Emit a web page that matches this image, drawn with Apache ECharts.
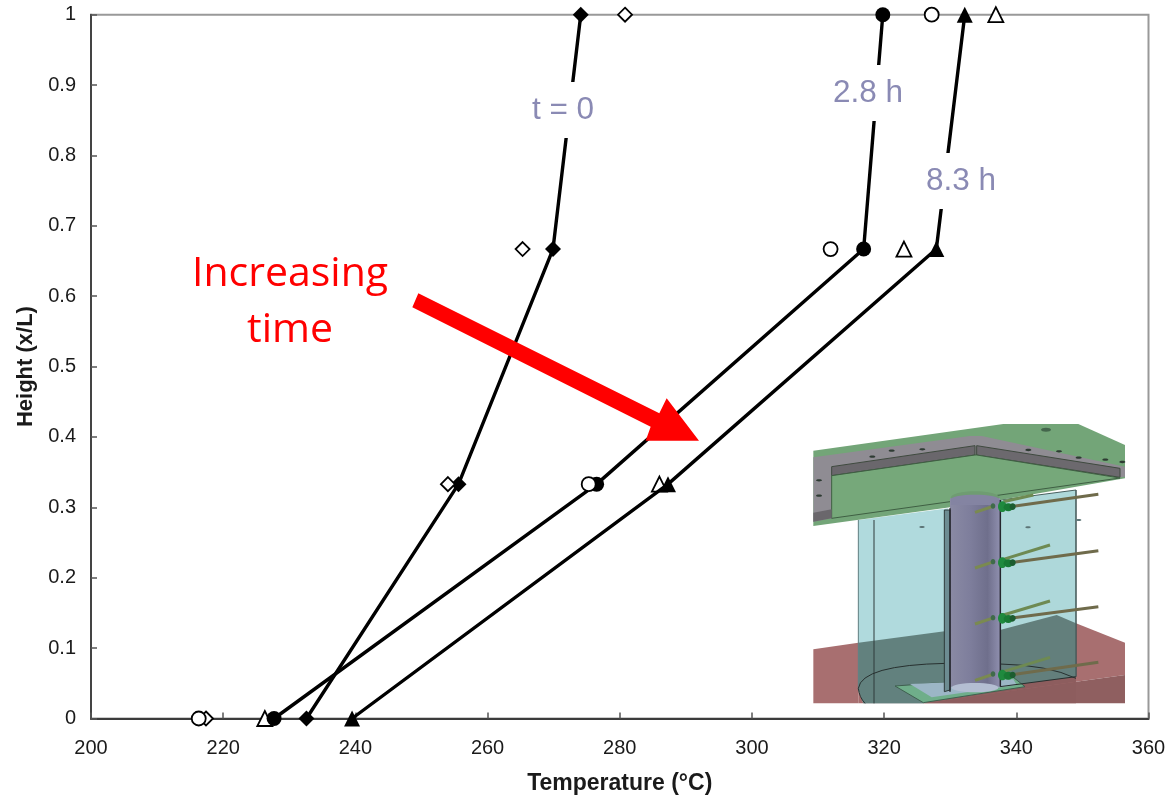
<!DOCTYPE html>
<html><head><meta charset="utf-8">
<style>html,body{margin:0;padding:0;background:#fff}#c{width:1176px;height:795px}</style>
<script src="https://cdn.jsdelivr.net/npm/echarts@6/dist/echarts.min.js"></script>
</head><body><div id="c"></div>
<script>
const heights = [0, 0.333, 0.667, 1];
const t0Measured = [232.6, 255.6, 269.9, 274.1];
const t0Simulated = [217.4, 254.0, 265.3, 280.8];
const h28Measured = [227.7, 276.5, 316.9, 319.8];
const h28Simulated = [216.3, 275.3, 311.9, 327.2];
const h83Measured = [239.5, 287.3, 327.9, 332.2];
const h83Simulated = [226.3, 286.0, 323.0, 336.9];

const pairs = xs => xs.map((x, i) => [x, heights[i]]);
const font = '"Liberation Sans", Arial, sans-serif';
const chart = echarts.init(document.getElementById('c'), null, {renderer: 'canvas'});

function hollow(name, xs, symbol, size, z) {
  return {name, type: 'scatter', data: pairs(xs), symbol, symbolSize: size, z,
    itemStyle: {color: '#fff', borderColor: '#000', borderWidth: 1.8, opacity: 1}, silent: true};
}
function filled(name, xs, symbol, size, z) {
  return {name, type: 'line', data: pairs(xs), symbol, symbolSize: size, showSymbol: true, z,
    lineStyle: {color: '#000', width: 3.4}, itemStyle: {color: '#000', opacity: 1}, silent: true, animation: false};
}

// inset drawing helpers (coordinates local to the inset picture)
const P = (x, y) => [800 + x / 3, 410 + y / 3];
const poly = (pts, fill, stroke, lw, z) => ({type: 'polygon', z: z || 20, silent: true,
  shape: {points: pts.map(p => P(p[0], p[1]))},
  style: {fill: fill, stroke: stroke || null, lineWidth: lw || 0}});
const seg = (a, b, color, lw, z) => ({type: 'line', z: z || 24, silent: true,
  shape: {x1: P(a[0], a[1])[0], y1: P(a[0], a[1])[1], x2: P(b[0], b[1])[0], y2: P(b[0], b[1])[1]},
  style: {stroke: color, lineWidth: lw}});
const curve = (a, c, b, color, lw) => ({type: 'bezierCurve', z: 21, silent: true,
  shape: {x1: P(a[0],a[1])[0], y1: P(a[0],a[1])[1], cpx1: P(c[0],c[1])[0], cpy1: P(c[0],c[1])[1],
          x2: P(b[0],b[1])[0], y2: P(b[0],b[1])[1]},
  style: {stroke: color, lineWidth: lw, fill: null}});
const oval = (x, y, rx, ry, fill, z) => ({type: 'ellipse', z: z || 24, silent: true,
  shape: {cx: P(x, y)[0], cy: P(x, y)[1], rx: rx / 3, ry: ry / 3},
  style: {fill: fill}});

const inset = [];
// floor
inset.push(poly([[40,718],[175,698],[175,880],[40,880]], '#a86f70'));
inset.push(poly([[828,640],[975,698],[975,795],[828,815]], '#a86f70'));
inset.push(poly([[175,698],[770,615],[828,640],[828,880],[175,880]], '#a56c6d'));
inset.push(poly([[828,815],[975,795],[975,880],[828,880]], '#8f5f60'));
inset.push(poly([[370,880],[828,815],[828,880]], '#8d5d5e'));
// glass panels
inset.push(poly([[175,330],[445,295],[445,850],[370,880],[190,880],[175,840]], '#b0dadd'));
inset.push(poly([[175,698],[445,662],[445,850],[370,880],[190,880],[175,840]], '#62817e'));
inset.push(poly([[600,270],[828,240],[828,800],[600,830]], '#aed8da', '#49605f', 1));
inset.push(poly([[600,660],[770,615],[828,640],[828,800],[600,830]], '#637f7c'));
inset.push(poly([[370,880],[600,830],[828,800],[828,815]], '#8d5d5e'));
inset.push(seg([222,330],[222,880],'#2e3a3a',1,21));
inset.push(seg([175,330],[175,840],'#5e7e80',1,21));
inset.push(seg([600,830],[828,800],'#27302f',1,21));
inset.push(seg([828,240],[828,800],'#3f5051',1,21));
// floor arc
inset.push(curve([175,835],[185,765],[440,760],'#27302f',1));
inset.push(curve([175,835],[178,862],[195,880],'#27302f',1));
inset.push(curve([600,762],[745,765],[828,805],'#27302f',1));
// base plate
inset.push(poly([[285,828],[640,802],[675,830],[370,878]], '#6fae8a', '#3f5f4f', 1));
inset.push(poly([[330,822],[640,808],[650,825],[395,862]], '#9cb6c6'));
// column
inset.push({type: 'rect', z: 22, silent: true,
  shape: {x: P(450,0)[0], y: P(0,265)[1], width: 150/3, height: 565/3},
  style: {fill: new echarts.graphic.LinearGradient(0,0,1,0,[
    {offset:0,color:'#8a8aa4'},{offset:0.4,color:'#7e7e9c'},{offset:0.75,color:'#6f6f8c'},{offset:1,color:'#8f8fae'}])}});
inset.push(poly([[433,300],[450,300],[450,840],[433,845]], '#6d8c92', '#2e3a3a', 1, 22));
inset.push(seg([450,295],[450,845],'#26262e',1.5));
inset.push(seg([601,270],[601,830],'#26262e',1.5));
inset.push(oval(525,833,70,14,'#b4bed2',23));
// top plate
inset.push(poly([[40,122],[610,42],[835,42],[975,105],[975,205],[600,270],[450,292],[40,348]], '#73a578'));
inset.push(poly([[40,142],[510,78],[545,78],[975,170],[975,200],[960,202],[530,135],[525,135],[95,197],[95,325],[40,335]], '#8f8c93'));
inset.push(poly([[95,170],[525,107],[525,135],[95,197]], '#6a676c', '#3f4a3f', 1));
inset.push(poly([[530,107],[960,175],[960,202],[530,135]], '#6c696e', '#3f4a3f', 1));
inset.push(poly([[95,197],[525,135],[530,135],[960,204],[600,255],[450,275],[95,325]], '#76a87a', '#3f5f43', 1));
inset.push(poly([[40,308],[95,298],[95,325],[40,335]], '#6a676c'));
inset.push(oval(525,262,72,18,'#6f9c72',23));
inset.push(poly([[453,268],[598,268],[598,285],[453,285]], '#8484a2', null, 0, 23));
inset.push(oval(525,268,72,14,'#8484a2',23));
[[217,140],[275,122],[367,118],[685,120],[777,124],[836,143],[916,149],[967,156],[57,211],[57,257]].forEach(h => inset.push(oval(h[0],h[1],9,3.5,'#2e3b33',25)));
inset.push(oval(738,59,15,6,'#44664c',25));
[[366,351],[684,352],[836,330]].forEach(h => inset.push(oval(h[0],h[1],8,3,'#5d7577',25)));
// thermocouples
const rods = [[290,253,275,700,255,288],[458,422,448,750,405,455],[625,590,615,750,573,623],[795,757,785,750,742,792]];
rods.forEach(r => {
  inset.push(seg([630,r[0]],[895,r[1]],'#6f6b4b',3));
  inset.push(seg([610,r[2]],[r[3],r[4]],'#6e8a52',3));
  inset.push(seg([525,r[5]+19],[582,r[5]],'#7a8a50',3));
  inset.push(oval(579,r[5],7,8,'#3f6b4a',26));
  inset.push(oval(607,r[0],13,16,'#1f8a3e',26));
  inset.push(oval(625,r[0]+2,14,12,'#187a34',26));
  inset.push(oval(638,r[0],9,10,'#1c5c30',26));
});

const labelStyle = (text, x, y) => ({type: 'text', z: 30, silent: true, x, y,
  style: {text, font: '31.5px ' + font, fill: '#8a8ab4', align: 'center', verticalAlign: 'middle',
    backgroundColor: '#fff', padding: [12, 2, 12, 2]}});
const redText = (text, x, y) => ({type: 'text', z: 31, silent: true, x, y,
  style: {text, font: '41px "Open Sans", sans-serif', fill: '#ff0000', align: 'center', verticalAlign: 'middle'}});
const A = (x, y) => [400 + x / 3, 280 + y / 3];

const option = {
  animation: false,
  backgroundColor: '#fff',
  grid: {left: 91, top: 14.7, right: 27.5, bottom: 76.5, show: true, borderColor: '#999', borderWidth: 2, backgroundColor: 'transparent', outerBoundsMode: 'none'},
  xAxis: {type: 'value', min: 200, max: 360, interval: 20, splitLine: {show: false},
    axisLine: {onZero: false, lineStyle: {color: '#3c3c3c', width: 2}},
    axisTick: {inside: true, length: 6, lineStyle: {color: '#555', width: 1.5}},
    axisLabel: {color: '#1a1a1a', fontFamily: font, fontSize: 20, margin: 20},
    name: 'Temperature (°C)', nameLocation: 'middle', nameGap: 54,
    nameTextStyle: {fontFamily: font, fontWeight: 'bold', fontSize: 23, color: '#1a1a1a'}},
  yAxis: {type: 'value', min: 0, max: 1, interval: 0.1, splitLine: {show: false},
    axisLine: {onZero: false, lineStyle: {color: '#444', width: 2}},
    axisTick: {inside: true, length: 6, lineStyle: {color: '#555', width: 1.5}},
    axisLabel: {color: '#1a1a1a', fontFamily: font, fontSize: 20, margin: 15,
      formatter: v => String(+v.toFixed(1))},
    name: 'Height (x/L)', nameLocation: 'middle', nameGap: 52, nameRotate: 90,
    nameTextStyle: {fontFamily: font, fontWeight: 'bold', fontSize: 22, color: '#1a1a1a'}},
  series: [
    filled('t = 0', t0Measured, 'diamond', 16, 3),
    hollow('t = 0 model', t0Simulated, 'diamond', 14, 4),
    filled('2.8 h', h28Measured, 'circle', 15, 3),
    hollow('2.8 h model', h28Simulated, 'circle', 14, 5),
    hollow('8.3 h model', h83Simulated, 'triangle', 15, 2),
    filled('8.3 h', h83Measured, 'triangle', 16, 6)
  ],
  graphic: {elements: inset.concat([
    labelStyle('t = 0', 563, 110),
    labelStyle('2.8 h', 868, 93),
    labelStyle('8.3 h', 961, 181),
    redText('Increasing', 290, 274),
    redText('time', 290, 330),
    {type: 'polygon', z: 29, silent: true,
      shape: {points: [A(55,40),A(37,82),A(752,440),A(737,482),A(897,482),A(800,355),A(778,400)]},
      style: {fill: '#ff0000'}}
  ])}
};
chart.setOption(option);
</script></body></html>
